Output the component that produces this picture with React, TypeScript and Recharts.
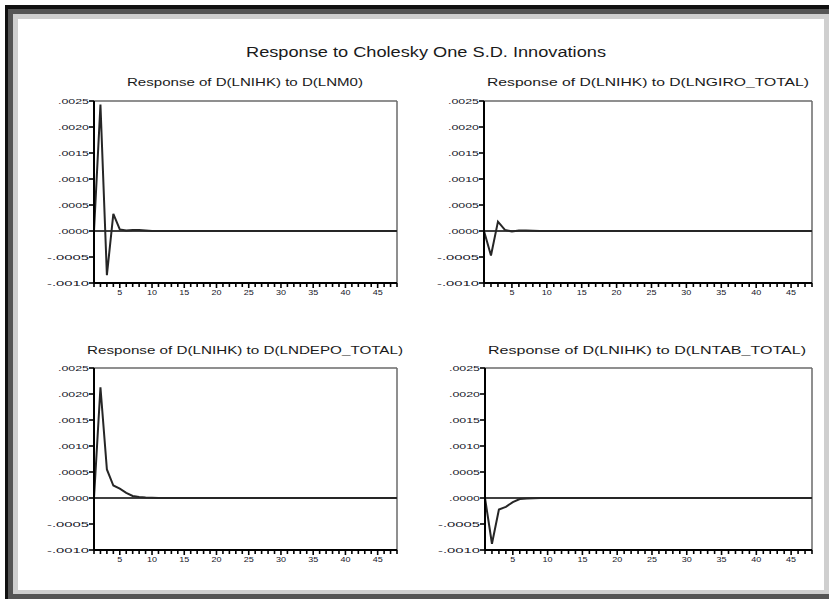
import React from 'react';
import { LineChart, Line, XAxis, YAxis, ReferenceLine } from 'recharts';

const PERIODS = [
  1, 2, 3, 4, 5, 6, 7, 8, 9, 10, 11, 12, 13, 14, 15, 16, 17, 18, 19, 20, 21, 22, 23, 24,
  25, 26, 27, 28, 29, 30, 31, 32, 33, 34, 35, 36, 37, 38, 39, 40, 41, 42, 43, 44, 45, 46, 47, 48,
];
const X_LABELS = [5, 10, 15, 20, 25, 30, 35, 40, 45];
const Y_TICKS = [-0.001, -0.0005, 0, 0.0005, 0.001, 0.0015, 0.002, 0.0025];

const RESP_LNM0 = [
  0, 0.00243, -0.00085, 0.00033, 0.00003, 0.00001, 0.00002, 0.00002, 0.00001, 0, 0, 0,
  0, 0, 0, 0, 0, 0, 0, 0, 0, 0, 0, 0, 0, 0, 0, 0, 0, 0, 0, 0, 0, 0, 0, 0, 0, 0, 0, 0, 0, 0, 0, 0, 0, 0, 0, 0,
];
const RESP_GIRO = [
  0, -0.00047, 0.00018, 0.00002, -0.00001, 0.00001, 0.00001, 0.000005, 0, 0, 0, 0,
  0, 0, 0, 0, 0, 0, 0, 0, 0, 0, 0, 0, 0, 0, 0, 0, 0, 0, 0, 0, 0, 0, 0, 0, 0, 0, 0, 0, 0, 0, 0, 0, 0, 0, 0, 0,
];
const RESP_DEPO = [
  0, 0.00213, 0.00055, 0.00024, 0.00018, 0.0001, 0.00004, 0.00002, 0.00001, 0.000005, 0, 0,
  0, 0, 0, 0, 0, 0, 0, 0, 0, 0, 0, 0, 0, 0, 0, 0, 0, 0, 0, 0, 0, 0, 0, 0, 0, 0, 0, 0, 0, 0, 0, 0, 0, 0, 0, 0,
];
const RESP_TAB = [
  0, -0.00088, -0.00022, -0.00017, -0.00008, -0.00002, -0.00001, -0.000005, 0, 0, 0, 0,
  0, 0, 0, 0, 0, 0, 0, 0, 0, 0, 0, 0, 0, 0, 0, 0, 0, 0, 0, 0, 0, 0, 0, 0, 0, 0, 0, 0, 0, 0, 0, 0, 0, 0, 0, 0,
];

const FONT = '"Liberation Sans", Arial, sans-serif';
const INK = '#15151f';

const fmt = (v: number) => (v < 0 ? '-' : '') + Math.abs(v).toFixed(4).replace(/^0/, '');

const XTick = (props: any) => {
  const { x, y, payload } = props;
  const v = payload.value;
  const major = X_LABELS.includes(v);
  return (
    <g>
      <line x1={x} x2={x} y1={y} y2={y + (major ? 5 : 4)} stroke="#000" strokeWidth={1.6} />
      {major && (
        <text x={x} y={y + 6} dy="0.71em" textAnchor="middle" fontSize={8} fontFamily={FONT} fill={INK}
          textLength={String(v).length * 5} lengthAdjust="spacingAndGlyphs">{v}</text>
      )}
    </g>
  );
};

const YTick = (props: any) => {
  const { x, y, payload } = props;
  const label = fmt(payload.value);
  return (
    <g>
      <line x1={x - 5} x2={x} y1={y} y2={y} stroke="#000" strokeWidth={1.6} />
      <text x={x - 5} y={y} dy="0.355em" textAnchor="end" fontSize={8} fontFamily={FONT} fill={INK}
        textLength={label.length === 6 ? 42 : 31} lengthAdjust="spacingAndGlyphs">{label}</text>
    </g>
  );
};

type PanelProps = { left: number; right: number; top: number; bottom: number; values: number[] };

const Panel = ({ left, right, top, bottom, values }: PanelProps) => {
  const data = PERIODS.map((p, i) => ({ period: p, value: values[i] }));
  const width = right - left + 70;
  const height = bottom - top + 40;
  return (
    <div style={{ position: 'absolute', left: left - 60, top: top - 10 }}>
      <LineChart width={width} height={height} data={data} margin={{ top: 10, right: 10, bottom: 0, left: 0 }}>
        <XAxis dataKey="period" type="number" domain={[1, 48]} ticks={PERIODS} interval={0}
          tick={<XTick />} tickLine={false} tickSize={0} tickMargin={0} height={30}
          axisLine={{ stroke: '#000', strokeWidth: 2 }} />
        <YAxis type="number" domain={[-0.001, 0.0025]} ticks={Y_TICKS} interval={0} allowDataOverflow
          tick={<YTick />} tickLine={false} tickSize={0} tickMargin={0} width={60}
          axisLine={{ stroke: '#000', strokeWidth: 2 }} />
        <ReferenceLine y={0.0025} stroke="#6a6a6a" strokeWidth={1.5} />
        <ReferenceLine x={48} stroke="#6a6a6a" strokeWidth={1.5} />
        <ReferenceLine y={0} stroke="#000" strokeWidth={1.5} />
        <Line type="linear" dataKey="value" stroke="#262626" strokeWidth={2} dot={false} isAnimationActive={false} />
      </LineChart>
    </div>
  );
};

const Label = ({ x, y, len, size, children }: { x: number; y: number; len: number; size: number; children: string }) => (
  <text x={x} y={y} dy="0.355em" textAnchor="middle" fontSize={size} fontFamily={FONT} fill="#1a1a1a"
    textLength={len} lengthAdjust="spacingAndGlyphs">{children}</text>
);

export default function App() {
  return (
    <div style={{ position: 'absolute', left: 0, top: 0, width: 829, height: 599, background: '#fff', overflow: 'hidden' }}>
      {/* window frame */}
      <div style={{ position: 'absolute', left: 5, top: 5, width: 824, height: 594, background: '#111' }} />
      <div style={{ position: 'absolute', left: 8, top: 9, width: 821, height: 585, background: '#555' }} />
      <div style={{ position: 'absolute', left: 13, top: 14, width: 816, height: 580, background: '#cfcfcf' }} />
      <div style={{ position: 'absolute', left: 18, top: 19, width: 806, height: 571, background: '#fff' }} />
      <div style={{ position: 'absolute', left: 8, top: 594, width: 821, height: 5, background: '#555' }} />

      <svg width={829} height={599} style={{ position: 'absolute', left: 0, top: 0 }}>
        <Label x={426} y={52} len={360} size={14}>Response to Cholesky One S.D. Innovations</Label>
        <Label x={245} y={82} len={236} size={10.5}>Response of D(LNIHK) to D(LNM0)</Label>
        <Label x={648} y={82} len={322} size={10.5}>Response of D(LNIHK) to D(LNGIRO_TOTAL)</Label>
        <Label x={245} y={350} len={316} size={10.5}>Response of D(LNIHK) to D(LNDEPO_TOTAL)</Label>
        <Label x={647} y={350} len={318} size={10.5}>Response of D(LNIHK) to D(LNTAB_TOTAL)</Label>
      </svg>

      <Panel left={94} right={397} top={101} bottom={283} values={RESP_LNM0} />
      <Panel left={484} right={812} top={101} bottom={283} values={RESP_GIRO} />
      <Panel left={94} right={397} top={368} bottom={550} values={RESP_DEPO} />
      <Panel left={485} right={812} top={368} bottom={550} values={RESP_TAB} />
    </div>
  );
}
